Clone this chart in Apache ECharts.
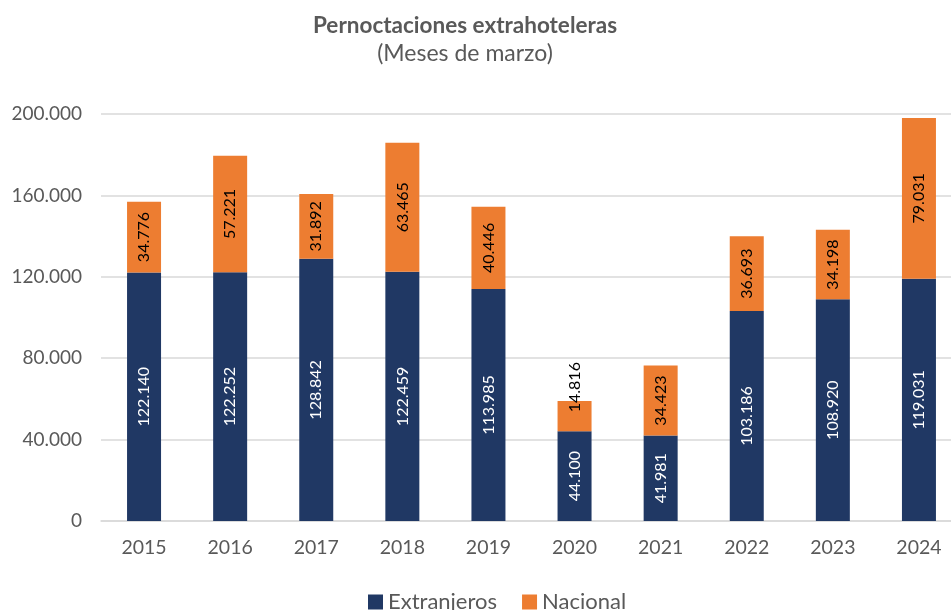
<!DOCTYPE html>
<html>
<head>
<meta charset="utf-8">
<script src="https://cdn.jsdelivr.net/npm/echarts@6/dist/echarts.min.js"></script>
<style>
  html, body { margin: 0; padding: 0; background: #fff; }
  #chart { width: 951px; height: 610px; }
</style>
</head>
<body>
<div id="chart"></div>
<script>
const years = ['2015', '2016', '2017', '2018', '2019', '2020', '2021', '2022', '2023', '2024']
const extranjeros = [122140, 122252, 128842, 122459, 113985, 44100, 41981, 103186, 108920, 119031]
const nacional = [34776, 57221, 31892, 63465, 40446, 14816, 34423, 36693, 34198, 79031]

const FONT = 'Lato, "Open Sans", sans-serif'
const fmt = v => String(v).replace(/\B(?=(\d{3})+(?!\d))/g, '.')

// the small 2020 segment has its label pushed up (offset is in the rotated frame)
const nacionalData = nacional.map(v => {
  if (v < 20000) return { value: v, label: { offset: [29, 0] } }
  return v
})

const chart = echarts.init(document.getElementById('chart'))
chart.setOption({
  animation: false,
  textStyle: { fontFamily: FONT },
  title: {
    text: 'Pernoctaciones extrahoteleras',
    subtext: '(Meses de marzo)',
    left: 460,
    textAlign: 'center',
    top: 9,
    itemGap: 5,
    textStyle: { fontSize: 22.5, fontWeight: 'bold', color: '#595959', fontFamily: FONT },
    subtextStyle: { fontSize: 23, color: '#595959', fontFamily: FONT }
  },
  legend: {
    top: 586,
    left: 363,
    itemWidth: 15,
    itemHeight: 15,
    itemGap: 25,
    icon: 'rect',
    textStyle: { fontSize: 22, color: '#595959', fontFamily: FONT },
    data: ['Extranjeros', 'Nacional']
  },
  grid: {
    left: 101,
    top: 114,
    right: -11,
    bottom: 89,
    outerBoundsMode: 'none'
  },
  xAxis: {
    type: 'category',
    data: years,
    axisTick: { show: false },
    axisLine: { lineStyle: { color: '#d9d9d9', width: 1.5 } },
    axisLabel: { fontSize: 19.5, color: '#595959', margin: 17 }
  },
  yAxis: {
    type: 'value',
    min: 0,
    max: 200000,
    interval: 40000,
    axisLabel: { fontSize: 19, color: '#595959', margin: 19, formatter: fmt },
    splitLine: { lineStyle: { color: '#d9d9d9', width: 1.5 } }
  },
  series: [
    {
      name: 'Extranjeros',
      type: 'bar',
      stack: 'total',
      barWidth: 34,
      itemStyle: { color: '#203864' },
      label: {
        show: true,
        position: 'inside',
        rotate: 90,
        color: '#fff',
        fontSize: 16,
        formatter: p => fmt(p.value)
      },
      data: extranjeros
    },
    {
      name: 'Nacional',
      type: 'bar',
      stack: 'total',
      barWidth: 34,
      itemStyle: { color: '#ed7d31' },
      label: {
        show: true,
        position: 'inside',
        rotate: 90,
        color: '#000',
        fontSize: 16,
        formatter: p => fmt(p.value)
      },
      data: nacionalData
    }
  ]
})
</script>
</body>
</html>
